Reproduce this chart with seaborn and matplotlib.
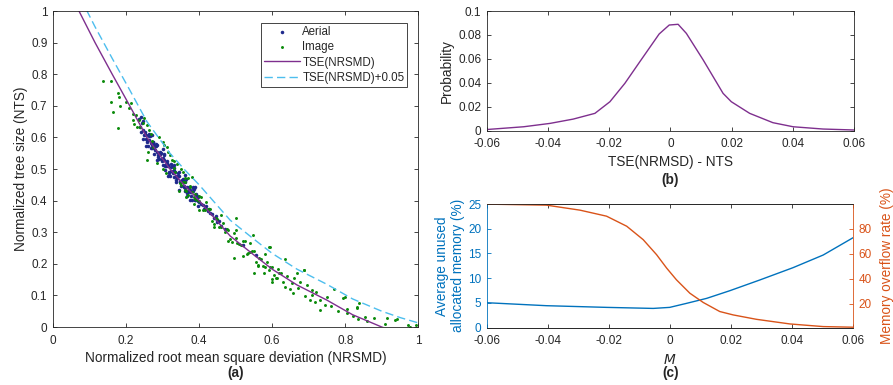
import matplotlib
matplotlib.use('Agg')
import numpy as np
import pandas as pd
import matplotlib.pyplot as plt
import seaborn as sns

# ---- (a) data ----
aerial_x = [
    0.235, 0.240, 0.245, 0.250, 0.255, 0.260, 0.265, 0.270, 0.275, 0.280, 0.285, 0.290,
    0.295, 0.300, 0.305, 0.310, 0.315, 0.320, 0.325, 0.330, 0.335, 0.340, 0.345, 0.350,
    0.355, 0.360, 0.365, 0.370, 0.375, 0.380, 0.385, 0.390, 0.395, 0.400,
    0.2375, 0.2425, 0.2475, 0.2525, 0.2575, 0.2625, 0.2675, 0.2725, 0.2775, 0.2825, 0.2875,
    0.2925, 0.2975, 0.3025, 0.3075, 0.3125, 0.3175, 0.3225, 0.3275, 0.3325, 0.3375, 0.3425,
    0.3475, 0.3525, 0.3575, 0.3625, 0.3675, 0.3725, 0.3775, 0.3825, 0.3875, 0.3925, 0.3975,
    0.2475, 0.255, 0.2625, 0.27, 0.2775, 0.285, 0.2925, 0.30, 0.3075, 0.315, 0.3225, 0.33,
    0.3375, 0.345, 0.3525, 0.36, 0.3675, 0.375, 0.3825, 0.39, 0.3975,
    0.24, 0.255, 0.27, 0.285, 0.30, 0.315, 0.33, 0.345, 0.36, 0.375, 0.39,
    0.2525, 0.2575, 0.2625, 0.2675, 0.2725, 0.2775, 0.2825, 0.2875, 0.2925, 0.2975,
    0.3025, 0.3075, 0.3125, 0.3175, 0.3225, 0.3275, 0.3325, 0.3375, 0.3425, 0.3475,
    0.3525, 0.3575, 0.3625, 0.3675, 0.3725, 0.3775, 0.3825, 0.3875, 0.3925, 0.3975,
    0.405, 0.41, 0.415, 0.42, 0.425, 0.43, 0.435, 0.44, 0.445, 0.45, 0.455, 0.46,
    0.412, 0.428, 0.448, 0.52, 0.555, 0.47,
]
aerial_y = [
    0.658, 0.618, 0.651, 0.609, 0.609, 0.573, 0.604, 0.568, 0.579, 0.560, 0.576, 0.532,
    0.551, 0.513, 0.549, 0.510, 0.512, 0.478, 0.511, 0.476, 0.489, 0.472, 0.490, 0.447,
    0.468, 0.432, 0.469, 0.431, 0.435, 0.403, 0.436, 0.401, 0.414, 0.397,
    0.632, 0.647, 0.596, 0.616, 0.587, 0.611, 0.581, 0.586, 0.548, 0.573, 0.544,
    0.546, 0.526, 0.543, 0.496, 0.518, 0.491, 0.517, 0.488, 0.495, 0.459, 0.486,
    0.458, 0.462, 0.444, 0.463, 0.416, 0.440, 0.415, 0.442, 0.413, 0.420, 0.384,
    0.625, 0.596, 0.593, 0.575, 0.575, 0.554, 0.553, 0.536, 0.511, 0.510, 0.493, 0.495,
    0.477, 0.479, 0.464, 0.441, 0.442, 0.427, 0.430, 0.411, 0.413,
    0.666, 0.573, 0.607, 0.528, 0.564, 0.478, 0.513, 0.435, 0.481, 0.402, 0.442,
    0.612, 0.593, 0.604, 0.567, 0.584, 0.566, 0.578, 0.539, 0.549, 0.531,
    0.529, 0.513, 0.525, 0.488, 0.506, 0.489, 0.503, 0.466, 0.478, 0.461,
    0.461, 0.446, 0.460, 0.424, 0.443, 0.427, 0.441, 0.403, 0.415, 0.399,
    0.39, 0.385, 0.376, 0.383, 0.366, 0.36, 0.357, 0.345, 0.352, 0.333, 0.336, 0.32,
    0.372, 0.372, 0.34, 0.26, 0.228, 0.31,
]

image_x = [
    0.136, 0.158, 0.179, 0.181, 0.159, 0.182, 0.164, 0.200, 0.213, 0.207, 0.220, 0.227,
    0.236, 0.247, 0.256, 0.229, 0.220, 0.179,
    0.238, 0.222, 0.270, 0.275, 0.257, 0.311, 0.315, 0.330, 0.335, 0.348, 0.361, 0.375,
    0.365, 0.380, 0.390, 0.400, 0.300, 0.290, 0.305, 0.320, 0.325, 0.340, 0.355, 0.370,
    0.285, 0.300, 0.310, 0.260, 0.345, 0.385, 0.360, 0.250, 0.262, 0.268, 0.330, 0.350,
    0.35, 0.36, 0.37, 0.38, 0.39, 0.40, 0.41, 0.42, 0.43, 0.44, 0.45, 0.46, 0.47, 0.48,
    0.49, 0.50, 0.51, 0.52, 0.53, 0.54, 0.55, 0.56, 0.57, 0.58, 0.59, 0.60, 0.61, 0.62,
    0.355, 0.365, 0.375, 0.385, 0.395, 0.405, 0.415, 0.425, 0.435, 0.445, 0.455, 0.465,
    0.475, 0.485, 0.495, 0.505, 0.515, 0.525, 0.535, 0.545, 0.555, 0.565, 0.575, 0.585,
    0.595, 0.605, 0.615,
    0.40, 0.42, 0.44, 0.46, 0.48, 0.50, 0.52, 0.54, 0.56, 0.58, 0.60,
    0.501, 0.590, 0.595, 0.636, 0.686, 0.688, 0.832, 0.795, 0.768, 0.730, 0.914, 0.937,
    0.973, 0.995, 0.855, 0.805, 0.668, 0.677, 0.695, 0.708, 0.704, 0.718, 0.731, 0.750,
    0.800, 0.805, 0.837, 0.833, 0.941, 0.978, 0.649, 0.658, 0.690, 0.636, 0.629, 0.613,
    0.600, 0.577, 0.549, 0.496, 0.547, 0.640, 0.655, 0.670, 0.625, 0.660, 0.710, 0.720,
    0.745, 0.760, 0.780, 0.820, 0.860, 0.910, 0.835, 0.880,
]
image_y = [
    0.778, 0.778, 0.740, 0.729, 0.713, 0.700, 0.681, 0.713, 0.709, 0.692, 0.673, 0.670,
    0.655, 0.645, 0.640, 0.634, 0.655, 0.629,
    0.634, 0.642, 0.590, 0.570, 0.528, 0.570, 0.555, 0.502, 0.490, 0.455, 0.435, 0.445,
    0.410, 0.476, 0.420, 0.400, 0.585, 0.600, 0.575, 0.545, 0.530, 0.515, 0.490, 0.470,
    0.520, 0.500, 0.488, 0.555, 0.430, 0.390, 0.470, 0.660, 0.625, 0.610, 0.525, 0.500,
    0.450, 0.458, 0.417, 0.428, 0.406, 0.415, 0.370, 0.373, 0.372, 0.325, 0.342, 0.316,
    0.300, 0.308, 0.269, 0.281, 0.262, 0.273, 0.232, 0.238, 0.241, 0.197, 0.216, 0.191,
    0.179, 0.191, 0.155, 0.171,
    0.460, 0.429, 0.443, 0.411, 0.403, 0.412, 0.370, 0.375, 0.335, 0.345, 0.317, 0.328,
    0.310, 0.280, 0.296, 0.265, 0.260, 0.272, 0.234, 0.242, 0.206, 0.218, 0.192, 0.205,
    0.191, 0.164, 0.184,
    0.370, 0.397, 0.315, 0.353, 0.273, 0.308, 0.225, 0.265, 0.193, 0.232, 0.152,
    0.344, 0.254, 0.254, 0.215, 0.180, 0.180, 0.064, 0.091, 0.119, 0.085, 0.027, 0.022,
    0.006, 0.005, 0.033, 0.043, 0.170, 0.143, 0.133, 0.117, 0.085, 0.080, 0.054, 0.094,
    0.094, 0.056, 0.077, 0.060, 0.025, 0.001, 0.119, 0.107, 0.098, 0.128, 0.143, 0.154,
    0.143, 0.170, 0.170, 0.217, 0.291, 0.160, 0.140, 0.125, 0.170, 0.155, 0.100, 0.110,
    0.070, 0.065, 0.050, 0.035, 0.018, 0.010, 0.025, 0.030,
]

tse_x = [0.05, 0.071, 0.115, 0.162, 0.21, 0.257, 0.32, 0.36, 0.40, 0.485, 0.55, 0.60,
         0.668, 0.75, 0.82, 0.90, 0.95, 1.0]
tse_y = [1.05, 1.0, 0.9, 0.8, 0.7, 0.6, 0.5, 0.448, 0.40, 0.288, 0.228, 0.183,
         0.133, 0.085, 0.039, 0.0, -0.02, -0.037]
tse_offset = 0.05

# ---- (b) data ----
err_x = [-0.06, -0.048, -0.0394, -0.0318, -0.0247, -0.0198, -0.0149, -0.01, -0.0037,
         -0.0004, 0.0025, 0.0052, 0.0107, 0.0172, 0.0199, 0.0259, 0.0335, 0.0401, 0.0499, 0.06]
err_p = [0.001, 0.0033, 0.0061, 0.0097, 0.0145, 0.0242, 0.0396, 0.0577, 0.0808,
         0.0883, 0.0889, 0.0813, 0.0591, 0.0312, 0.0242, 0.0145, 0.0067, 0.0033, 0.0014, 0.0006]

# ---- (c) data ----
m_unused = [-0.06, -0.0405, -0.0208, -0.0055, -0.0001, 0.0054, 0.012, 0.0196, 0.0294,
            0.0403, 0.0502, 0.06]
unused_mem = [5.05, 4.45, 4.11, 3.9, 4.11, 4.92, 5.93, 7.48, 9.64, 12.13, 14.69, 18.19]
m_overflow = [-0.06, -0.0405, -0.0295, -0.0208, -0.0142, -0.0088, -0.0044, -0.0011,
              0.0021, 0.0065, 0.0109, 0.0163, 0.0207, 0.0283, 0.0393, 0.0502, 0.06]
overflow_rate = [99.5, 98.7, 94.7, 89.9, 81.9, 71.2, 59.2, 48.5, 39.2, 28.5, 21.1,
                 13.9, 11.2, 7.7, 4.0, 1.9, 1.4]

dark = '#262626'
c_aerial = '#1f2a8c'
c_image = '#0a8a0a'
c_purple = '#7E2F8E'
c_cyan = '#4DBEEE'
c_blue = '#0072BD'
c_orange = '#D95319'

sns.set_theme(style='ticks')
plt.rcParams.update({
    'font.family': ['Liberation Sans', 'DejaVu Sans'],
    'axes.unicode_minus': False,
    'axes.edgecolor': dark,
    'axes.linewidth': 0.6,
    'xtick.direction': 'in',
    'ytick.direction': 'in',
    'xtick.color': dark,
    'ytick.color': dark,
    'xtick.labelsize': 8.5,
    'ytick.labelsize': 8.5,
    'xtick.major.size': 3,
    'ytick.major.size': 3,
    'xtick.major.width': 0.6,
    'ytick.major.width': 0.6,
    'xtick.major.pad': 5.5,
    'ytick.major.pad': 4,
    'axes.labelsize': 9.8,
    'axes.labelcolor': dark,
})

fig = plt.figure(figsize=(8.93, 3.85), dpi=100)
ax_a = fig.add_axes([0.0594, 0.1506, 0.4090, 0.8208])
ax_b = fig.add_axes([0.5453, 0.6605, 0.4110, 0.3109])
ax_c = fig.add_axes([0.5453, 0.1488, 0.4100, 0.3213])

# (a)
sns.scatterplot(x=aerial_x, y=aerial_y, ax=ax_a, color=c_aerial, s=6.5, linewidth=0,
                marker='o', label='Aerial')
sns.scatterplot(x=image_x, y=image_y, ax=ax_a, color=c_image, s=4.5, linewidth=0,
                marker='o', label='Image')
sns.lineplot(x=tse_x, y=tse_y, ax=ax_a, color=c_purple, linewidth=1.0,
             estimator=None, sort=False, label='TSE(NRSMD)')
sns.lineplot(x=tse_x, y=np.array(tse_y) + tse_offset, ax=ax_a, color=c_cyan,
             linewidth=1.0, linestyle=(0, (6, 3)), estimator=None, sort=False,
             label='TSE(NRSMD)+0.05')
ax_a.set_xlim(0, 1)
ax_a.set_ylim(0, 1)
ax_a.set_xticks(np.arange(0, 1.01, 0.2))
ax_a.set_xticklabels(['0', '0.2', '0.4', '0.6', '0.8', '1'])
ax_a.set_yticks(np.arange(0, 1.01, 0.1))
ax_a.set_yticklabels(['0', '0.1', '0.2', '0.3', '0.4', '0.5', '0.6', '0.7', '0.8', '0.9', '1'])
ax_a.tick_params(top=True, right=True)
ax_a.set_xlabel('Normalized root mean square deviation (NRSMD)', labelpad=3)
ax_a.set_ylabel('Normalized tree size (NTS)', labelpad=2)
leg = ax_a.legend(loc='upper right', bbox_to_anchor=(0.97, 0.963), fontsize=8.3,
                  frameon=True, fancybox=False, framealpha=1, edgecolor=dark,
                  handlelength=3.1, handletextpad=0.2, borderpad=0.25, labelspacing=0.3,
                  borderaxespad=0, markerscale=1.0)
leg.get_frame().set_linewidth(0.6)

# (b)
sns.lineplot(x=err_x, y=err_p, ax=ax_b, color=c_purple, linewidth=1.0,
             estimator=None, sort=False)
ax_b.set_xlim(-0.06, 0.06)
ax_b.set_ylim(0, 0.1)
ticks_m = [-0.06, -0.04, -0.02, 0, 0.02, 0.04, 0.06]
ticks_m_lab = ['-0.06', '-0.04', '-0.02', '0', '0.02', '0.04', '0.06']
ax_b.set_xticks(ticks_m)
ax_b.set_xticklabels(ticks_m_lab)
ax_b.set_yticks([0, 0.02, 0.04, 0.06, 0.08, 0.1])
ax_b.set_yticklabels(['0', '0.02', '0.04', '0.06', '0.08', '0.1'])
ax_b.tick_params(top=True, right=True)
ax_b.set_xlabel('TSE(NRMSD) - NTS', labelpad=3)
ax_b.set_ylabel('Probability', labelpad=3)

# (c)
ax_c2 = ax_c.twinx()
sns.lineplot(x=m_unused, y=unused_mem, ax=ax_c, color=c_blue, linewidth=1.0,
             estimator=None, sort=False)
sns.lineplot(x=m_overflow, y=overflow_rate, ax=ax_c2, color=c_orange, linewidth=1.0,
             estimator=None, sort=False)
ax_c.set_xlim(-0.06, 0.06)
ax_c.set_ylim(0, 25)
ax_c.set_yticks([0, 5, 10, 15, 20, 25])
ax_c.set_xticks(ticks_m)
ax_c.set_xticklabels(ticks_m_lab)
ax_c.tick_params(axis='x', top=True)
ax_c.tick_params(axis='y', colors=c_blue, right=False)
ax_c.spines['left'].set_color(c_blue)
ax_c.spines['right'].set_visible(False)
ax_c.set_xlabel('$M$', labelpad=4)
ax_c.set_ylabel('Average unused\nallocated memory (%)', color=c_blue, labelpad=2,
                linespacing=1.2)
ax_c2.set_ylim(1, 99.6)
ax_c2.set_yticks([20, 40, 60, 80])
ax_c2.tick_params(axis='y', colors=c_orange, direction='in')
ax_c2.spines['right'].set_color(c_orange)
ax_c2.spines['left'].set_visible(False)
ax_c2.spines['top'].set_color(dark)
ax_c2.set_ylabel('Memory overflow rate (%)', color=c_orange, labelpad=6)

# panel tags
fig.text(0.2637, 0.031, '(a)', ha='center', va='center', fontsize=9.8,
         fontweight='bold', color=dark)
fig.text(0.7508, 0.532, '(b)', ha='center', va='center', fontsize=9.8,
         fontweight='bold', color=dark)
fig.text(0.7508, 0.031, '(c)', ha='center', va='center', fontsize=9.8,
         fontweight='bold', color=dark)

fig.savefig('out.png', dpi=100, facecolor='white')
